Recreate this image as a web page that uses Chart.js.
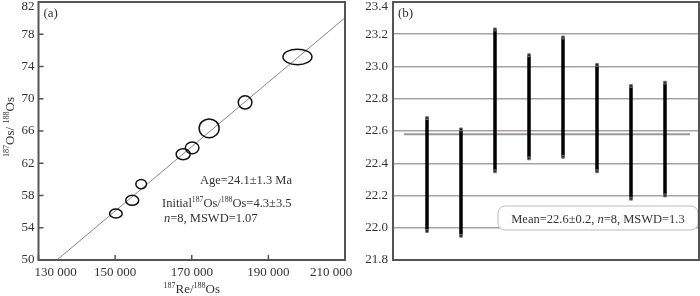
<!DOCTYPE html>
<html>
<head>
<meta charset="utf-8">
<script src="https://cdn.jsdelivr.net/npm/chart.js@4"></script>
<style>
  body { margin: 0; background: #fff; }
  #wrap { position: relative; width: 700px; height: 296px; }
  canvas { position: absolute; top: 0; }
</style>
</head>
<body>
<div id="wrap">
  <canvas id="isoChart" width="360" height="296" style="left:0"></canvas>
  <canvas id="ageChart" width="350" height="296" style="left:350px"></canvas>
</div>
<script>
// (a) isochron data: 187Re/188Os vs 187Os/188Os, with error half-widths
const reOs = [150200, 154460, 156800, 167760, 170100, 174540, 183920, 197590];
const osOs = [55.77, 57.40, 59.42, 63.12, 63.91, 66.33, 69.54, 75.19];
const reOsErr = [1640, 1700, 1390, 1830, 1780, 2610, 1780, 3780];
const osOsErr = [0.56, 0.62, 0.58, 0.68, 0.72, 1.17, 0.82, 0.96];
const fitSlope = 3.996e-4;
const fitIntercept = -3.87;
const isoXTicks = [130000, 150000, 170000, 190000, 210000];
const isoYTicks = [50, 54, 58, 62, 66, 70, 74, 78, 82];

// (b) model ages (Ma): lower and upper ends of each error bar
const sampleNo = [1, 2, 3, 4, 5, 6, 7, 8];
const ageLow = [21.98, 21.95, 22.35, 22.43, 22.44, 22.35, 22.18, 22.20];
const ageHigh = [22.68, 22.61, 23.23, 23.07, 23.18, 23.01, 22.88, 22.90];
const ageMean = 22.58;
const ageYTicks = [21.8, 22.0, 22.2, 22.4, 22.6, 22.8, 23.0, 23.2, 23.4];

const SERIF = '"Liberation Serif", "Times New Roman", serif';
const TEXT = '#333';

// draw text with superscript parts
function richText(ctx, parts, x, y, size, align) {
    let w = 0;
    parts.forEach(p => {
        ctx.font = (p.it ? 'italic ' : '') + (p.sup ? size * 0.62 : size) + 'px ' + SERIF;
        p.w = ctx.measureText(p.t).width;
        w += p.w;
    });
    let cx = align === 'center' ? x - w / 2 : x;
    ctx.textAlign = 'left';
    ctx.textBaseline = 'alphabetic';
    parts.forEach(p => {
        ctx.font = (p.it ? 'italic ' : '') + (p.sup ? size * 0.62 : size) + 'px ' + SERIF;
        ctx.fillText(p.t, cx, p.sup ? y - size * 0.38 : y);
        cx += p.w;
    });
}

function fmtThousand(v) {
    return String(v).replace(/\B(?=(\d{3})+(?!\d))/g, ' ');
}

// keep the plot box fixed: no extra room for overflowing tick labels
function noPad(s) {
    s.paddingTop = 0; s.paddingBottom = 0;
    s.paddingLeft = 0; s.paddingRight = 0;
}

// frame, inside tick marks and tick labels (end labels kept inside the canvas)
const framePlugin = {
    id: 'frame',
    afterDraw(chart, args, opts) {
        const { ctx, chartArea: a } = chart;
        const xs = chart.scales.x, ys = chart.scales.y;
        ctx.save();
        ctx.strokeStyle = '#555';
        ctx.lineWidth = 1.5;
        if (opts.ticks) {
            ctx.beginPath();
            xs.ticks.forEach(t => {
                const px = xs.getPixelForValue(t.value);
                ctx.moveTo(px, a.bottom); ctx.lineTo(px, a.bottom - 5);
            });
            ys.ticks.forEach(t => {
                const py = ys.getPixelForValue(t.value);
                ctx.moveTo(a.left, py); ctx.lineTo(a.left + 5, py);
            });
            ctx.stroke();
        }
        ctx.lineWidth = 2;
        ctx.strokeRect(a.left, a.top, a.right - a.left, a.bottom - a.top);

        ctx.fillStyle = TEXT;
        ctx.font = '13px ' + SERIF;
        ctx.textBaseline = 'middle';
        ctx.textAlign = 'right';
        ys.ticks.forEach(t => {
            const py = Math.max(ys.getPixelForValue(t.value), a.top + 5);
            ctx.fillText(opts.yFmt(t.value), a.left - opts.yPad, py);
        });
        if (opts.xLabels) {
            ctx.textAlign = 'center';
            xs.ticks.forEach(t => {
                let px = xs.getPixelForValue(t.value);
                px = Math.min(Math.max(px, a.left + 17), a.right - 14);
                ctx.fillText(fmtThousand(t.value), px, a.bottom + 13);
            });
        }
        ctx.textAlign = 'left';
        ctx.fillText(opts.label, a.left + 5, a.top + 12);
        ctx.restore();
    }
};

// ellipses + annotation text for the isochron
const isoPlugin = {
    id: 'iso',
    afterDatasetsDraw(chart) {
        const { ctx, chartArea: a } = chart;
        const xs = chart.scales.x, ys = chart.scales.y;
        ctx.save();
        ctx.strokeStyle = '#111';
        ctx.lineWidth = 1.5;
        reOs.forEach((v, i) => {
            const cx = xs.getPixelForValue(v);
            const cy = ys.getPixelForValue(osOs[i]);
            const rx = Math.abs(xs.getPixelForValue(v + reOsErr[i]) - cx);
            const ry = Math.abs(ys.getPixelForValue(osOs[i] + osOsErr[i]) - cy);
            ctx.beginPath();
            ctx.ellipse(cx, cy, rx, ry, 0, 0, Math.PI * 2);
            ctx.stroke();
        });
        ctx.fillStyle = TEXT;
        richText(ctx, [{ t: 'Age=24.1±1.3 Ma' }], 200, 184, 12.5);
        richText(ctx, [{ t: 'Initial' }, { t: '187', sup: true }, { t: 'Os/' }, { t: '188', sup: true }, { t: 'Os=4.3±3.5' }], 162, 207, 12.5);
        richText(ctx, [{ t: 'n', it: true }, { t: '=8, MSWD=1.07' }], 164, 222, 12.5);
        // axis titles
        richText(ctx, [{ t: '187', sup: true }, { t: 'Re/' }, { t: '188', sup: true }, { t: 'Os' }], (a.left + a.right) / 2, 293, 13, 'center');
        ctx.translate(14, (a.top + a.bottom) / 2 - 4);
        ctx.rotate(-Math.PI / 2);
        richText(ctx, [{ t: '187', sup: true }, { t: 'Os/ ' }, { t: '188', sup: true }, { t: 'Os' }], 0, 0, 13, 'center');
        ctx.restore();
    }
};

// mean box for the age plot
const meanPlugin = {
    id: 'meanBox',
    afterDatasetsDraw(chart) {
        const { ctx, chartArea: a } = chart;
        const x0 = a.right - 201, y0 = 206, w = 200, h = 24;
        ctx.save();
        ctx.fillStyle = '#fff';
        ctx.strokeStyle = '#bbb';
        ctx.lineWidth = 1;
        ctx.beginPath();
        ctx.roundRect(x0, y0, w, h, 7);
        ctx.fill();
        ctx.stroke();
        ctx.fillStyle = TEXT;
        richText(ctx, [{ t: 'Mean=22.6±0.2, ' }, { t: 'n', it: true }, { t: '=8, MSWD=1.3' }], x0 + w / 2, y0 + 16.5, 12.5, 'center');
        ctx.restore();
    }
};

function initializeCharts() {
    const isoMin = isoXTicks[0], isoMax = isoXTicks[isoXTicks.length - 1];

    new Chart(document.getElementById('isoChart'), {
        type: 'scatter',
        data: {
            datasets: [{
                type: 'line',
                data: [
                    { x: isoMin, y: fitIntercept + fitSlope * isoMin },
                    { x: isoMax, y: fitIntercept + fitSlope * isoMax }
                ],
                borderColor: '#888',
                borderWidth: 1,
                pointRadius: 0,
                fill: false
            }, {
                data: reOs.map((v, i) => ({ x: v, y: osOs[i] })),
                pointRadius: 0
            }]
        },
        options: {
            responsive: false,
            animation: false,
            layout: { autoPadding: false, padding: { top: 2, right: 15, left: 0, bottom: 0 } },
            plugins: {
                legend: { display: false },
                tooltip: { enabled: false },
                frame: { label: '(a)', ticks: true, xLabels: true, yPad: 4, yFmt: v => String(v) }
            },
            scales: {
                x: {
                    type: 'linear',
                    min: isoMin, max: isoMax,
                    afterBuildTicks: s => { s.ticks = isoXTicks.map(v => ({ value: v })); },
                    afterFit: s => { s.height = 36; noPad(s); },
                    grid: { display: false, drawTicks: false },
                    border: { display: false },
                    ticks: { display: false }
                },
                y: {
                    min: 50, max: 82,
                    afterBuildTicks: s => { s.ticks = isoYTicks.map(v => ({ value: v })); },
                    afterFit: s => { s.width = 38.5; noPad(s); },
                    grid: { display: false, drawTicks: false },
                    border: { display: false },
                    ticks: { display: false }
                }
            }
        },
        plugins: [framePlugin, isoPlugin]
    });

    const barSets = sampleNo.map((n, i) => ({
        type: 'line',
        data: [{ x: n, y: ageLow[i] }, { x: n, y: ageHigh[i] }],
        borderColor: '#000',
        borderWidth: 3.5,
        pointStyle: 'rect',
        pointRadius: 2,
        pointBackgroundColor: '#222',
        pointBorderColor: '#777',
        pointBorderWidth: 1,
        fill: false,
        order: 1
    }));

    new Chart(document.getElementById('ageChart'), {
        type: 'scatter',
        data: {
            datasets: [{
                type: 'line',
                data: [{ x: 0.32, y: ageMean }, { x: 8.74, y: ageMean }],
                borderColor: '#999',
                borderWidth: 2,
                pointRadius: 0,
                fill: false,
                order: 2
            }].concat(barSets)
        },
        options: {
            responsive: false,
            animation: false,
            layout: { autoPadding: false, padding: { top: 2, right: 1, left: 0, bottom: 36 } },
            plugins: {
                legend: { display: false },
                tooltip: { enabled: false },
                frame: { label: '(b)', ticks: false, xLabels: false, yPad: 5, yFmt: v => v.toFixed(1) }
            },
            scales: {
                x: { type: 'linear', min: 0, max: 9, display: false },
                y: {
                    min: 21.8, max: 23.4,
                    afterBuildTicks: s => { s.ticks = ageYTicks.map(v => ({ value: v })); },
                    afterFit: s => { s.width = 43; noPad(s); },
                    grid: { color: '#aaa2a0', lineWidth: 1.5, drawTicks: false },
                    border: { display: false },
                    ticks: { display: false }
                }
            }
        },
        plugins: [framePlugin, meanPlugin]
    });
}

window.onload = () => {
    initializeCharts();
};
</script>
</body>
</html>
